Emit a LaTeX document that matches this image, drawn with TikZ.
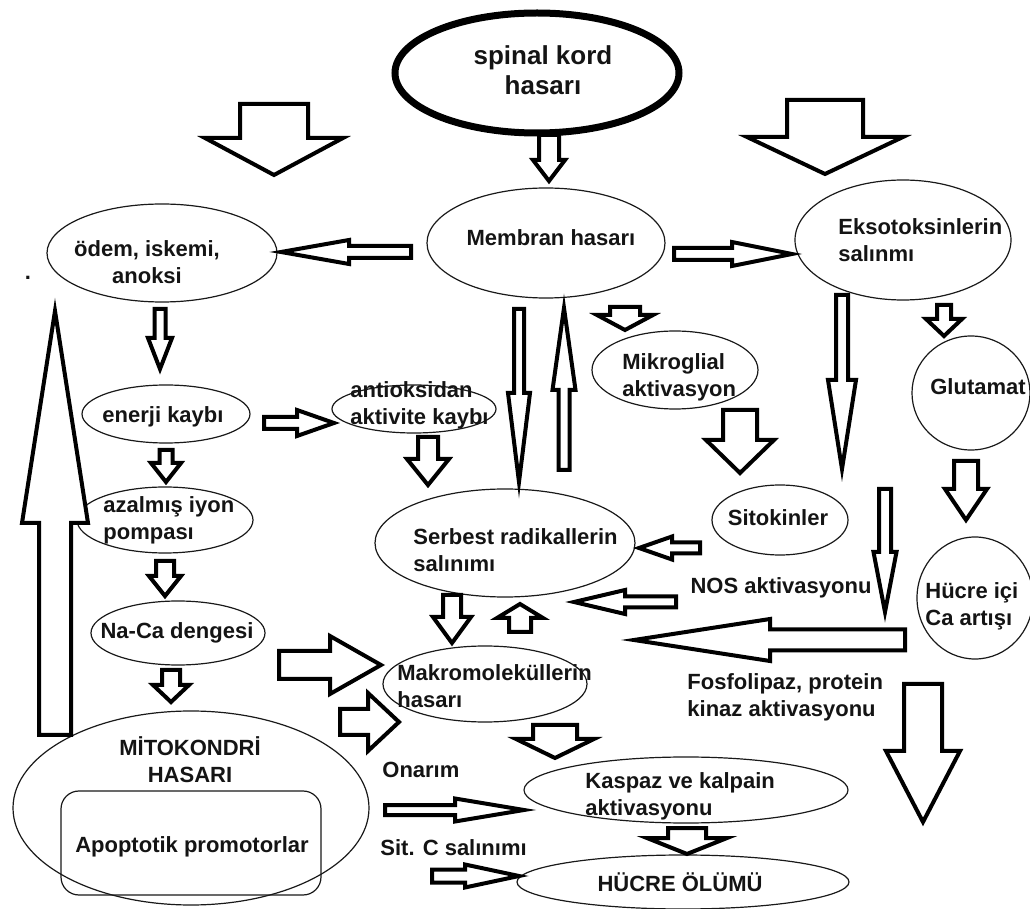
\documentclass[tikz,border=0pt]{standalone}
\usepackage{fontspec}
\setmainfont{Liberation Sans}
\usetikzlibrary{shapes.geometric}
\newlength{\arrowlinewidth}
\newlength{\ovallinewidth}
\newlength{\rootlinewidth}
\setlength{\arrowlinewidth}{2pt}
\setlength{\ovallinewidth}{0.6pt}
\setlength{\rootlinewidth}{3.5pt}
\definecolor{ovalcolor}{RGB}{25,25,25}
\definecolor{arrowcolor}{RGB}{0,0,0}
\definecolor{textcolor}{RGB}{20,20,20}
% block arrow: tail x, tail y, direction, length, shaft half width, head half width, head length
\newcommand{\blockarrow}[7]{
	\draw[bigarrow, shift={(#1,#2)}, rotate=#3] (0,-#5) -- (#4-#7,-#5) -- (#4-#7,-#6) -- (#4,0) -- (#4-#7,#6) -- (#4-#7,#5) -- (0,#5) -- cycle;
}
\tikzstyle{bigarrow} = [draw=arrowcolor, fill=white, line width=\arrowlinewidth, line join=miter]
\tikzstyle{oval} = [draw=ovalcolor, ellipse, line width=\ovallinewidth, inner sep=0, outer sep=0]
\tikzstyle{txt} = [text=textcolor, font=\fontsize{11}{13.5}\selectfont\bfseries, inner sep=0, align=left]

\begin{document}
\begin{tikzpicture}[x=0.5pt, y=-0.5pt]
	\useasboundingbox (0,0) rectangle (1030,909);
	
	% ovals
	\node[oval, line width=\rootlinewidth, draw=black, minimum width=142pt, minimum height=60pt] (spinal) at (537,73) {};
	\node[oval, minimum width=119pt, minimum height=55pt] (membran) at (546,243) {};
	\node[oval, minimum width=115pt, minimum height=49pt] (odem) at (162,253) {};
	\node[oval, minimum width=108pt, minimum height=60pt] (ekso) at (903,240) {};
	\node[oval, minimum width=83pt, minimum height=39pt] (mikro) at (675,370) {};
	\node[oval, minimum width=59pt, minimum height=57pt] (glutamat) at (971,393) {};
	\node[oval, minimum width=58pt, minimum height=61pt] (hucreca) at (975,598) {};
	\node[oval, minimum width=84pt, minimum height=29pt] (enerji) at (166,414) {};
	\node[oval, minimum width=82pt, minimum height=24pt] (antiox) at (414,409) {};
	\node[oval, minimum width=88pt, minimum height=33pt] (iyon) at (165,520) {};
	\node[oval, minimum width=130pt, minimum height=54pt] (serbest) at (505,543) {};
	\node[oval, minimum width=68pt, minimum height=35pt] (sitokin) at (780,520) {};
	\node[oval, minimum width=87pt, minimum height=32pt] (naca) at (178,633) {};
	\node[oval, minimum width=102pt, minimum height=38pt] (makro) at (485,684) {};
	\node[oval, minimum width=178pt, minimum height=97pt] (mito) at (191,808) {};
	\node[oval, minimum width=162pt, minimum height=33pt] (kaspaz) at (686,790) {};
	\node[oval, minimum width=166pt, minimum height=27pt] (olum) at (683,882) {};
	\draw[draw=ovalcolor, line width=\ovallinewidth, rounded corners=9pt] (61,791) rectangle (321,895);
	
	% block arrows
	\blockarrow{274}{104}{-90}{71}{34}{69}{37}
	\blockarrow{549}{135}{-90}{46}{10}{16}{21}
	\blockarrow{825}{100}{-90}{74}{38}{78}{37}
	\blockarrow{411}{252}{180}{130}{6}{12}{68}
	\blockarrow{674}{254}{0}{118}{6}{12}{60}
	\blockarrow{160}{309}{-90}{60}{5.5}{12}{31}
	\blockarrow{264}{423}{0}{70}{6}{13}{37}
	\blockarrow{166}{450}{-90}{32}{6.5}{15}{19}
	\blockarrow{165}{561}{-90}{35}{9}{16}{20}
	\blockarrow{428}{437}{-90}{48}{10}{21}{26}
	\blockarrow{171}{670}{-90}{32}{9}{18}{17}
	\blockarrow{55}{735}{90}{424}{16}{33}{212}
	\blockarrow{519}{309}{-90}{173}{5}{11}{89}
	\blockarrow{564}{470}{90}{162}{5.5}{11.5}{82}
	\blockarrow{625}{307}{-90}{23}{15}{28}{15}
	\blockarrow{740}{410}{-90}{63}{17}{34}{33}
	\blockarrow{842}{295}{-90}{174}{6}{14}{89}
	\blockarrow{944}{305}{-90}{31}{7}{18}{17}
	\blockarrow{966}{461}{-90}{59}{12}{21}{31}
	\blockarrow{885}{489}{-90}{123}{6}{11.5}{60}
	\blockarrow{700}{548}{180}{61}{5.5}{11.5}{33}
	\blockarrow{676}{602}{180}{102}{5.5}{12}{51}
	\blockarrow{452}{595}{-90}{48}{9}{19}{26}
	\blockarrow{520}{632}{90}{28}{11}{23}{14}
	\blockarrow{905}{640}{180}{271}{10.5}{21}{136}
	\blockarrow{279}{665}{0}{102}{14}{29}{51}
	\blockarrow{340}{722}{0}{59}{13}{29}{31}
	\blockarrow{555}{725}{-90}{33}{22}{39}{19}
	\blockarrow{385}{810}{0}{139}{5}{11.5}{69}
	\blockarrow{432}{876}{0}{87}{6.5}{11.5}{54}
	\blockarrow{687}{828}{-90}{26}{19}{40}{16}
	\blockarrow{923}{684}{-90}{138}{19}{37}{71}
	
	% texts
	\node[txt, font=\fontsize{13}{15}\selectfont\bfseries, align=center] (spinaltxt) at (543,70) {spinal kord\\hasarı};
	\node[txt] (membrantxt) at (551,238) {Membran hasarı};
	\node[txt, align=center] (odemtxt) at (147,262) {ödem, iskemi,\\anoksi};
	\node[txt, anchor=base] (dot) at (28,280) {.};
	\node[txt, anchor=west] (eksotxt) at (838,240) {Eksotoksinlerin\\salınmı};
	\node[txt, anchor=west] (mikrotxt) at (622,377) {Mikroglial\\aktivasyon};
	\node[txt] (glutamattxt) at (978,387) {Glutamat};
	\node[txt, anchor=west] (hucrecatxt) at (925,606) {Hücre içi\\Ca artışı};
	\node[txt] (enerjitxt) at (163,417) {enerji kaybı};
	\node[txt, anchor=west] (antioxtxt) at (350,405) {antioksidan\\aktivite kaybı};
	\node[txt, anchor=west] (iyontxt) at (103,520) {azalmış iyon\\pompası};
	\node[txt, anchor=west] (serbesttxt) at (413,550) {Serbest radikallerin\\salınımı};
	\node[txt] (sitokintxt) at (778,518) {Sitokinler};
	\node[txt] (nostxt) at (781,588) {NOS aktivasyonu};
	\node[txt] (nacatxt) at (177,633) {Na-Ca dengesi};
	\node[txt, anchor=west] (makrotxt) at (397,686) {Makromoleküllerin\\hasarı};
	\node[txt, anchor=west] (fosfotxt) at (687,697) {Fosfolipaz, protein\\kinaz aktivasyonu};
	\node[txt, align=center] (mitotxt) at (190,760) {MİTOKONDRİ\\HASARI};
	\node[txt, anchor=west] (onarimtxt) at (382,770) {Onarım};
	\node[txt] (apoptxt) at (192,847) {Apoptotik promotorlar};
	\node[txt, anchor=west] (kaspaztxt) at (585,796) {Kaspaz ve kalpain\\aktivasyonu};
	\node[txt, anchor=west] (sitctxt) at (380,848) {Sit. C salınımı};
	\node[txt] (olumtxt) at (680,882) {HÜCRE ÖLÜMÜ};
	
\end{tikzpicture}
\end{document}
